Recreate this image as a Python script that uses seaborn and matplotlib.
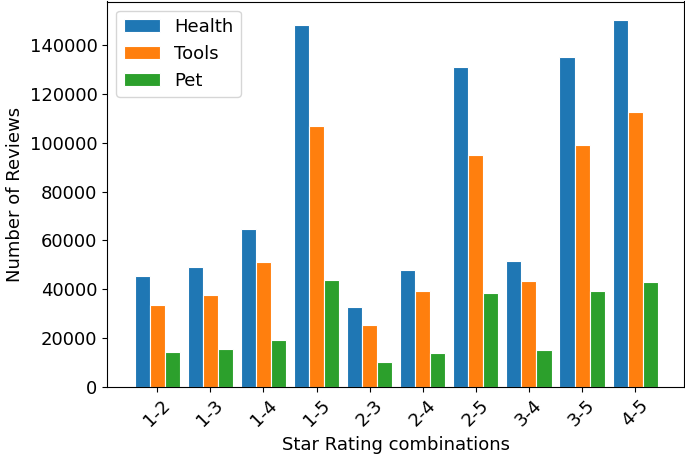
import matplotlib
matplotlib.use("Agg")
import matplotlib.pyplot as plt
import seaborn as sns
import pandas as pd

categories = ["1-2", "1-3", "1-4", "1-5", "2-3", "2-4", "2-5", "3-4", "3-5", "4-5"]
health = [45300, 49300, 64500, 148400, 32500, 47700, 131300, 51600, 135300, 150500]
tools = [33500, 37600, 51100, 107100, 25500, 39100, 95000, 43200, 99100, 112600]
pet = [14300, 15600, 19100, 43600, 10000, 13700, 38300, 14900, 39300, 43000]
series_names = ["Health", "Tools", "Pet"]

rows = []
for name, vals in zip(series_names, [health, tools, pet]):
    for c, v in zip(categories, vals):
        rows.append({"combo": c, "cat": name, "reviews": v})
df = pd.DataFrame(rows)

fig = plt.figure(figsize=(6.85, 4.58), dpi=100)
ax = fig.add_axes([107.3 / 685, 1 - 386.7 / 458, (684 - 107.3) / 685, (386.7 - 1.5) / 458])

sns.barplot(data=df, x="combo", y="reviews", hue="cat", order=categories,
            hue_order=series_names, palette=["#1f77b4", "#ff7f0e", "#2ca02c"],
            width=0.85, edgecolor="white", linewidth=0.8, saturation=1, ax=ax,
            errorbar=None)

ax.set_xlim(-0.94, 9.92)
ax.set_ylim(0, 158000)
ax.set_xlabel("Star Rating combinations", fontsize=13)
ax.set_ylabel("Number of Reviews", fontsize=13)
ax.tick_params(axis="both", labelsize=13)
ax.set_yticks([0, 20000, 40000, 60000, 80000, 100000, 120000, 140000])
ax.set_yticklabels(["0", "20000", "40000", "60000", "80000", "100000", "120000", "140000"])
plt.setp(ax.get_xticklabels(), rotation=45)
for s in ax.spines.values():
    s.set_visible(True)
ax.legend(loc="upper left", fontsize=13, title=None)

fig.savefig("out.png", dpi=100)
